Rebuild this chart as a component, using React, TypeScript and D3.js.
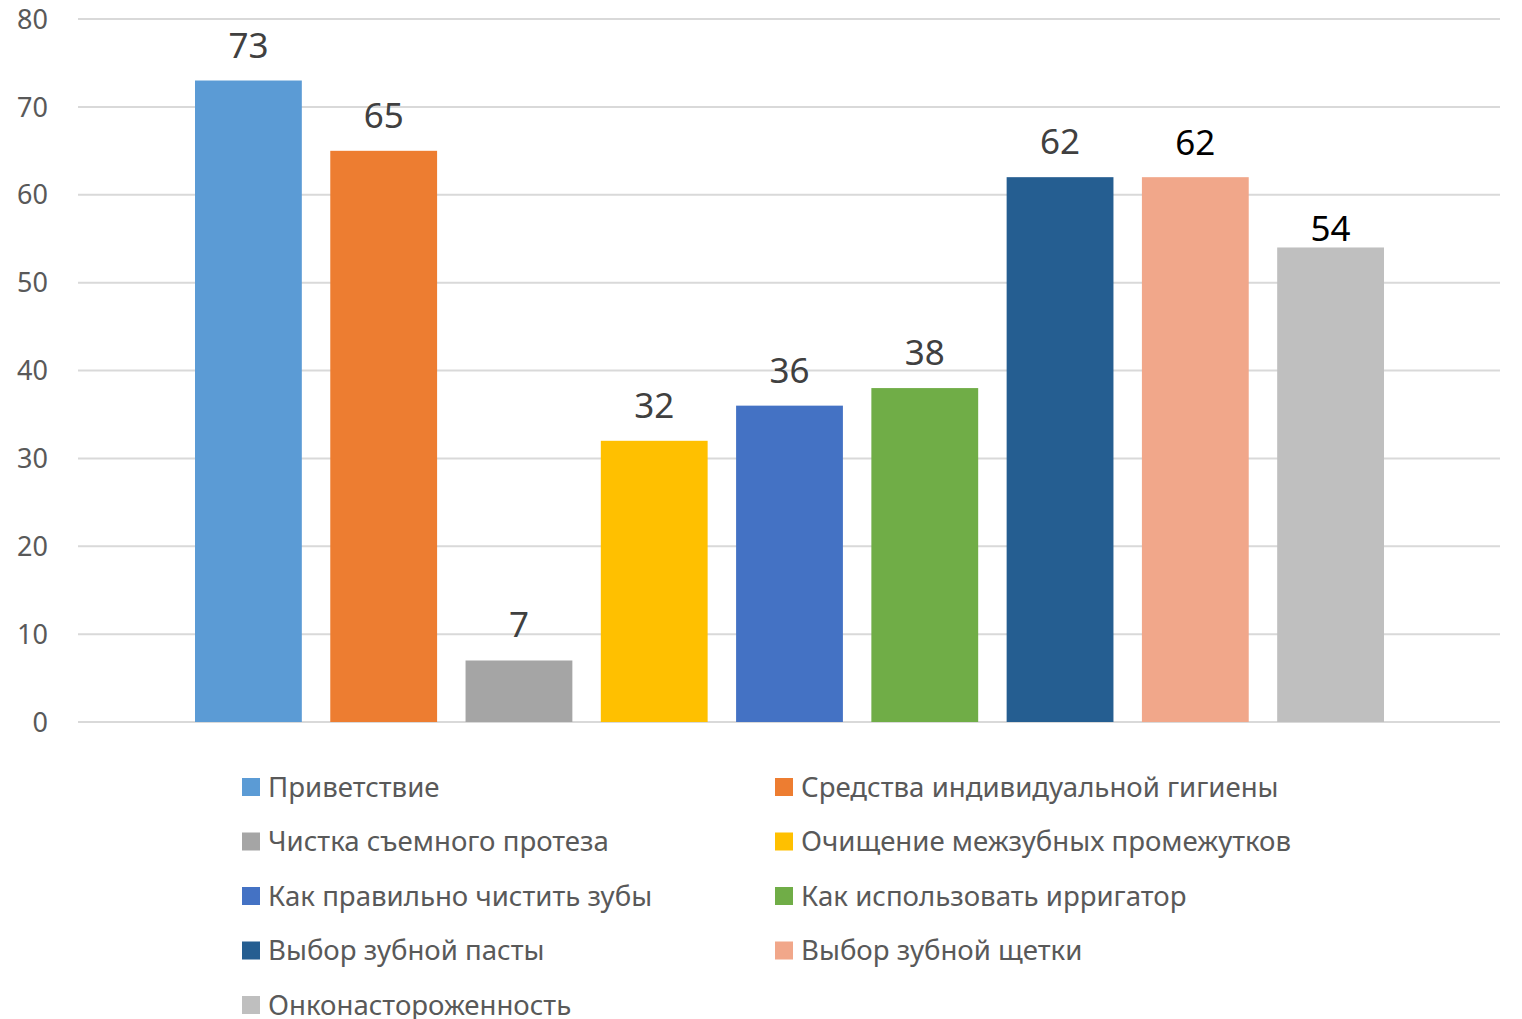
import React from "react";
import * as d3 from "d3";

const categories = [
  "Приветствие",
  "Средства индивидуальной гигиены",
  "Чистка съемного протеза",
  "Очищение межзубных промежутков",
  "Как правильно чистить зубы",
  "Как использовать ирригатор",
  "Выбор зубной пасты",
  "Выбор зубной щетки",
  "Онконастороженность",
];
const values = [73, 65, 7, 32, 36, 38, 62, 62, 54];
const colors = ["#5B9BD5", "#ED7D31", "#A5A5A5", "#FFC000", "#4472C4", "#70AD47", "#255E91", "#F1A78A", "#BFBFBF"];
const labelColors = ["#404040", "#404040", "#404040", "#404040", "#404040", "#404040", "#404040", "#000000", "#000000"];
const labelGaps = [23, 23, 23, 23, 23, 23, 23, 22, 6];
const yTicks = [0, 10, 20, 30, 40, 50, 60, 70, 80];

const W = 1522;
const H = 1019;
const FONT = "'Noto Sans', sans-serif";

export default function App() {
  const left = 78, right = 1500, top = 19, bottom = 722;
  const y = d3.scaleLinear().domain([0, 80]).range([bottom, top]);
  const x = d3.scaleBand<number>().domain(d3.range(categories.length)).range([195, 1384]).paddingInner(28.5 / 135.5).paddingOuter(0);

  const legendCols = [242, 775];
  const rowY0 = 787, rowStep = 54.5;

  return (
    <svg width={W} height={H} style={{ position: "absolute", left: 0, top: 0, background: "#fff" }} fontFamily={FONT}>
      {yTicks.map((t) => (
        <g key={t}>
          <line x1={left} x2={right} y1={y(t)} y2={y(t)} stroke="#D9D9D9" strokeWidth={2} />
          <text x={48} y={y(t)} dy="0.36em" textAnchor="end" fontSize={27} fill="#595959">{t}</text>
        </g>
      ))}
      {values.map((v, i) => (
        <g key={i}>
          <rect x={x(i)} y={y(v)} width={x.bandwidth()} height={y(0) - y(v)} fill={colors[i]} />
          <text x={(x(i) as number) + x.bandwidth() / 2} y={y(v) - labelGaps[i]} textAnchor="middle" fontSize={35} fill={labelColors[i]}>{v}</text>
        </g>
      ))}
      {categories.map((c, i) => {
        const col = i % 2;
        const row = Math.floor(i / 2);
        const cy = rowY0 + row * rowStep;
        return (
          <g key={c}>
            <rect x={legendCols[col]} y={cy - 9} width={18} height={18} fill={colors[i]} />
            <text x={legendCols[col] + 26} y={cy} dy="0.36em" fontSize={27.6} fill="#595959">{c}</text>
          </g>
        );
      })}
    </svg>
  );
}
